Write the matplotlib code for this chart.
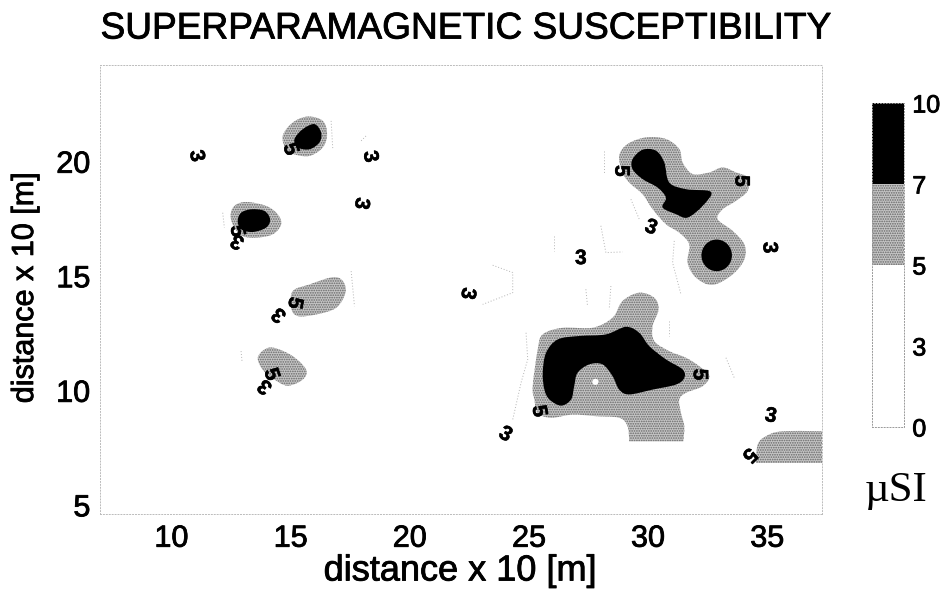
import numpy as np
import matplotlib as mpl
import matplotlib.pyplot as plt
import matplotlib.patheffects as pe
from matplotlib.path import Path
from matplotlib.patches import PathPatch, Ellipse, Rectangle

plt.rcParams['font.family'] = ['Liberation Sans', 'DejaVu Sans']
plt.rcParams['hatch.linewidth'] = 0.8

# ===========================================================================
# Values (distance x 10 [m])
# ===========================================================================
x_ticks = [10, 15, 20, 25, 30, 35]
y_ticks = [5, 10, 15, 20]
cbar_levels = [0, 3, 5, 7, 10]

# 5-7 uSI zones
gray_main_x = [25.16, 25.37, 25.58, 26.42, 27.67, 28.51, 28.93, 29.63, 30.26, 30.44, 30.19, 30.26, 30.89, 31.59, 32.15, 32.57, 32.29, 31.59, 31.31, 31.38, 31.52, 31.48, 31.48, 29.21, 29.21, 29.14, 28.79, 27.81, 26.83, 25.93, 25.37, 25.23]
gray_main_y = [10.18, 11.78, 12.44, 12.73, 12.73, 13.17, 13.90, 14.26, 14.04, 13.53, 12.80, 12.15, 11.71, 11.42, 11.05, 10.62, 10.18, 9.89, 9.60, 9.01, 8.43, 7.77, 7.77, 7.77, 7.77, 8.43, 8.80, 8.87, 8.94, 8.80, 9.01, 9.60]
gray_upper_x = [28.79, 29.14, 29.91, 30.75, 31.31, 31.45, 31.87, 32.57, 33.13, 33.69, 34.18, 34.18, 33.69, 33.13, 32.92, 33.55, 34.04, 34.04, 33.55, 32.71, 32.01, 31.66, 31.73, 31.31, 30.75, 30.19, 29.77, 29.21, 28.93]
gray_upper_y = [20.24, 20.75, 21.04, 20.97, 20.53, 19.95, 19.44, 19.51, 19.73, 19.51, 19.29, 18.71, 18.27, 17.90, 17.47, 16.96, 16.37, 15.72, 15.06, 14.60, 14.92, 15.57, 16.37, 16.88, 17.25, 17.91, 18.56, 19.07, 19.51]
gray_corner_x = [34.53, 34.53, 34.60, 34.94, 35.64, 37.6, 37.6, 37.6, 37.6, 34.53]
gray_corner_y = [6.83, 6.83, 7.63, 7.99, 8.21, 8.21, 8.21, 6.83, 6.83, 6.83]
gray_a_x = [14.67, 15.09, 15.72, 16.35, 16.53, 16.35, 15.79, 15.16, 14.81]
gray_a_y = [21.11, 21.69, 21.95, 21.76, 21.18, 20.60, 20.23, 20.30, 20.52]
gray_b_x = [12.48, 12.64, 13.13, 13.97, 14.46, 14.60, 14.25, 13.55, 12.99, 12.64]
gray_b_y = [17.61, 18.05, 18.22, 18.05, 17.68, 17.24, 16.81, 16.66, 16.73, 17.10]
gray_c_x = [15.09, 15.79, 16.77, 17.19, 17.30, 16.91, 16.07, 15.30, 15.02]
gray_c_y = [14.33, 14.62, 14.94, 14.77, 14.26, 13.60, 13.31, 13.24, 13.60]
gray_d_x = [13.62, 13.90, 14.32, 15.09, 15.65, 15.51, 14.88, 14.32, 13.83]
gray_d_y = [11.41, 11.78, 11.85, 11.49, 10.90, 10.47, 10.20, 10.47, 10.90]

# 7-10 uSI zones
black_main_x = [25.58, 25.72, 26.21, 27.11, 28.23, 29.07, 29.63, 30.05, 30.75, 31.45, 31.52, 31.17, 30.19, 29.21, 28.79, 28.51, 28.09, 27.53, 27.04, 26.90, 26.77, 26.35, 25.86, 25.65]
black_main_y = [10.76, 11.64, 12.22, 12.37, 12.44, 12.77, 12.51, 11.93, 11.35, 10.91, 10.54, 10.25, 10.03, 9.82, 10.03, 10.62, 11.13, 11.13, 10.76, 10.18, 9.60, 9.33, 9.60, 10.03]
black_upper_x = [29.35, 29.77, 30.33, 30.68, 30.89, 31.59, 32.64, 32.29, 31.66, 31.17, 30.61, 30.75, 30.40, 29.77, 29.35]
black_upper_y = [20.09, 20.50, 20.46, 19.95, 19.07, 18.78, 18.66, 18.05, 17.54, 17.69, 17.98, 18.41, 18.85, 19.22, 19.65]
black_a_x = [15.16, 15.51, 16.00, 16.28, 16.21, 15.79, 15.30]
black_a_y = [20.96, 21.40, 21.62, 21.25, 20.82, 20.52, 20.60]
black_b_x = [12.78, 12.92, 13.34, 13.90, 14.14, 13.97, 13.41, 12.92]
black_b_y = [17.39, 17.75, 17.90, 17.83, 17.46, 17.10, 16.91, 17.03]
black_round = (32.88, 15.89, 1.28, 1.38)
white_spot = (27.79, 10.37, 0.26, 0.27)

# faint 3 uSI isoline pieces
iso_3 = [
    ([24.88, 24.95, 24.67, 24.32], [12.51, 11.35, 10.33, 8.72]),
    ([28.16, 28.16], [20.46, 19.44]),
    ([29.28, 29.63], [18.34, 17.47]),
    ([28.02, 28.23, 28.93], [17.18, 16.01, 16.04]),
    ([31.10, 31.03, 31.38], [16.52, 15.57, 14.19]),
    ([26.07, 26.07], [16.74, 16.08]),
    ([23.48, 24.32, 24.32, 23.06], [15.46, 15.14, 14.26, 13.75]),
    ([27.39, 27.46], [14.41, 13.68]),
    ([28.44, 28.37], [14.55, 13.53]),
    ([30.89, 30.89], [13.02, 12.37]),
    ([33.27, 33.62], [11.42, 10.54]),
    ([16.70, 16.77], [21.76, 20.52]),
    ([12.15, 12.22], [17.75, 17.10]),
    ([17.54, 17.68], [15.20, 13.67]),
    ([12.92, 12.96], [11.71, 11.27]),
    ([17.96, 18.17], [20.89, 21.11]),
]

# contour labels: x, y, text, rotation
label_x = [11.04, 14.98, 18.33, 17.96, 12.78, 12.74, 15.16, 14.53, 14.18, 13.94, 28.86, 33.90, 30.12, 35.08, 27.18, 22.42, 32.15, 25.41, 24.01, 35.15, 34.25]
label_y = [20.23, 20.52, 20.20, 18.16, 16.52, 16.95, 13.82, 13.31, 10.69, 10.18, 19.58, 19.14, 17.10, 16.23, 15.75, 14.23, 10.69, 9.09, 8.07, 8.87, 7.19]
label_txt = ['3', '5', '3', '3', '3', '5', '5', '3', '5', '3', '5', '5', '3', '3', '3', '3', '5', '5', '3', '3', '5']
label_rot = [-80, -70, -80, -100, 150, -80, -100, 140, -70, 140, -90, -90, -20, -88, 0, -100, -90, -80, -30, -10, -135]

GRAY_FC = '#c6c6c6'
GRAY_HATCH = '#666666'


def blob_path(xs, ys):
    """Closed smooth outline (Catmull-Rom as Bezier) through the read-off points."""
    pts = np.column_stack([xs, ys])
    n = len(pts)
    verts = [pts[0]]
    codes = [Path.MOVETO]
    for i in range(n):
        p0, p1, p2, p3 = pts[i - 1], pts[i], pts[(i + 1) % n], pts[(i + 2) % n]
        if np.array_equal(p1, p2):  # doubled point = sharp corner
            continue
        verts += [p1 + (p2 - p0) / 6, p2 - (p3 - p1) / 6, p2]
        codes += [Path.CURVE4] * 3
    return Path(verts, codes)


fig = plt.figure(figsize=(9.48, 5.91), dpi=100)
ax = fig.add_axes([100 / 948, 1 - 514 / 591, 722 / 948, 449 / 591])

for xs, ys in [(gray_main_x, gray_main_y), (gray_upper_x, gray_upper_y), (gray_corner_x, gray_corner_y),
               (gray_a_x, gray_a_y), (gray_b_x, gray_b_y), (gray_c_x, gray_c_y), (gray_d_x, gray_d_y)]:
    ax.add_patch(PathPatch(blob_path(xs, ys), facecolor=GRAY_FC, edgecolor=GRAY_HATCH, hatch='.......', linewidth=0))

for xs, ys in [(black_main_x, black_main_y), (black_upper_x, black_upper_y), (black_a_x, black_a_y), (black_b_x, black_b_y)]:
    ax.add_patch(PathPatch(blob_path(xs, ys), facecolor='black', edgecolor='none'))
ax.add_patch(Ellipse(black_round[:2], black_round[2], black_round[3], facecolor='black', edgecolor='none'))
ax.add_patch(Ellipse(white_spot[:2], white_spot[2], white_spot[3], facecolor='white', edgecolor='none'))

for xs, ys in iso_3:
    ax.plot(xs, ys, color='#b4b4b4', lw=0.7, ls=(0, (1, 2)))

label_stroke = [pe.withStroke(linewidth=0.4, foreground='black')]
for x, y, t, r in zip(label_x, label_y, label_txt, label_rot):
    ax.text(x, y, t, rotation=r, fontsize=15, fontweight='bold', ha='center', va='center',
            rotation_mode='anchor', path_effects=label_stroke)

ax.set_xlim(7, 37.3)
ax.set_ylim(4.6, 24.2)
ax.set_xticks(x_ticks)
ax.set_yticks(y_ticks)
ax.tick_params(length=0, labelsize=22, pad=7)
ax.tick_params(axis='y', pad=7)
for s in ax.spines.values():
    s.set_color('#bbbbbb')
    s.set_linewidth(0.7)
    s.set_linestyle((0, (1, 2)))

stroke = [pe.withStroke(linewidth=0.6, foreground='black')]
for t in ax.get_xticklabels() + ax.get_yticklabels():
    t.set_path_effects(stroke)

fig.text(466 / 948, 1 - 29 / 591, 'SUPERPARAMAGNETIC SUSCEPTIBILITY', fontsize=26.7, ha='center', va='center', path_effects=stroke)
fig.text(460 / 948, 1 - 571 / 591, 'distance x 10 [m]', fontsize=26, ha='center', va='center', path_effects=stroke)
fig.text(25 / 948, 1 - 288 / 591, 'distance x 10 [m]', fontsize=22, rotation=90, ha='center', va='center', path_effects=stroke)

# Colorbar with uniform spacing of the levels
cax = fig.add_axes([872 / 948, 1 - 427 / 591, 32 / 948, 324 / 591])
cmap = mpl.colors.ListedColormap(['white', 'white', GRAY_FC, 'black'])
norm = mpl.colors.BoundaryNorm(cbar_levels, cmap.N)
cb = fig.colorbar(mpl.cm.ScalarMappable(norm=norm, cmap=cmap), cax=cax, spacing='uniform', ticks=cbar_levels)
cb.ax.add_patch(Rectangle((0, 0.5), 1, 0.25, transform=cb.ax.transAxes, facecolor='none', edgecolor=GRAY_HATCH, hatch='.......', linewidth=0))
cb.ax.tick_params(length=0, labelsize=18, pad=6)
cb.outline.set_edgecolor('#999999')
cb.outline.set_linewidth(0.7)
cb.outline.set_linestyle((0, (1, 2)))
for t in cb.ax.get_yticklabels():
    t.set_path_effects(stroke)

fig.text(896 / 948, 1 - 491 / 591, 'µSI', family=['Liberation Serif', 'DejaVu Serif'], fontsize=31, ha='center', va='center')

plt.savefig('out.png', dpi=100)
